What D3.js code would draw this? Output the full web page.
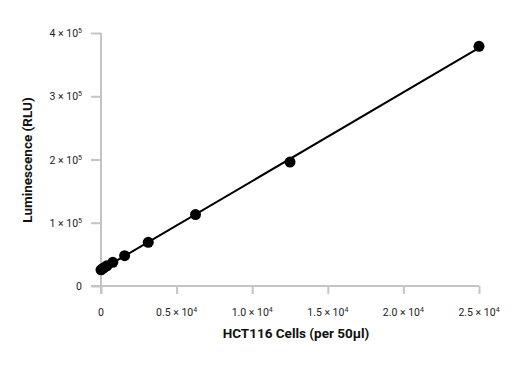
<!DOCTYPE html>
<html>
<head>
<meta charset="utf-8">
<script src="https://cdn.jsdelivr.net/npm/d3@7"></script>
<style>
  body { margin: 0; background: #fff; }
  text { font-family: Roboto, "Open Sans", sans-serif; }
</style>
</head>
<body>
<svg id="chart" width="532" height="369"></svg>
<script>
// cells per well and luminescence readings
var cells = [0, 98, 195, 390, 781, 1563, 3125, 6250, 12500, 25000];
var rlu = [25500, 27000, 29000, 32000, 37500, 48000, 69000, 113000, 196000, 379000];
var xTicks = [0, 5000, 10000, 15000, 20000, 25000];
var xTickLabels = ['0', '0.5 × 10', '1.0 × 10', '1.5 × 10', '2.0 × 10', '2.5 × 10'];
var yTicks = [0, 100000, 200000, 300000, 400000];
var yTickLabels = ['0', '1 × 10', '2 × 10', '3 × 10', '4 × 10'];

var data = cells.map((c, i) => ({x: c, y: rlu[i]}));

var svg = d3.select('#chart');

var x = d3.scaleLinear().domain([0, 25000]).range([101, 479]);
var y = d3.scaleLinear().domain([0, 400000]).range([286, 33]);

var axisColor = '#c4c4c4';

// x axis
var xAxis = svg.append('g')
    .attr('transform', 'translate(0,286)')
    .call(d3.axisBottom(x).tickValues(xTicks).tickSize(8).tickSizeOuter(0).tickFormat(''));
xAxis.select('.domain').remove();
xAxis.append('line')
    .attr('x1', 91).attr('x2', 479)
    .attr('stroke', axisColor).attr('stroke-width', 2);
xAxis.selectAll('.tick line').attr('stroke', axisColor).attr('stroke-width', 2);

// y axis
var yAxis = svg.append('g')
    .attr('transform', 'translate(101,0)')
    .call(d3.axisLeft(y).tickValues(yTicks).tickSize(10).tickSizeOuter(0).tickFormat(''));
yAxis.select('.domain').remove();
yAxis.append('line')
    .attr('y1', 33).attr('y2', 294)
    .attr('stroke', axisColor).attr('stroke-width', 2);
yAxis.selectAll('.tick line').attr('stroke', axisColor).attr('stroke-width', 2);

// tick labels with superscript exponents
var xl = svg.append('g').selectAll('text')
    .data(xTicks).enter().append('text')
    .attr('x', d => x(d))
    .attr('y', 316)
    .attr('text-anchor', 'middle')
    .attr('font-size', 10.5)
    .attr('fill', '#222');
xl.append('tspan').text((d, i) => xTickLabels[i]);
xl.filter((d, i) => i > 0).append('tspan')
    .attr('dy', -4).attr('font-size', 7).text('4');

var yl = svg.append('g').selectAll('text')
    .data(yTicks).enter().append('text')
    .attr('x', 82)
    .attr('y', d => y(d) + 4)
    .attr('text-anchor', 'end')
    .attr('font-size', 10.5)
    .attr('fill', '#222');
yl.append('tspan').text((d, i) => yTickLabels[i]);
yl.filter((d, i) => i > 0).append('tspan')
    .attr('dy', -4).attr('font-size', 7).text('5');

// least squares fit line
var mx = d3.mean(cells), my = d3.mean(rlu);
var slope = d3.sum(data, d => (d.x - mx) * (d.y - my)) / d3.sum(data, d => (d.x - mx) * (d.x - mx));
var intercept = my - slope * mx;
var fit = [0, 25000].map(c => ({x: c, y: intercept + slope * c}));

svg.append('path')
    .datum(fit)
    .attr('d', d3.line().x(d => x(d.x)).y(d => y(d.y)))
    .attr('stroke', '#000')
    .attr('stroke-width', 2)
    .attr('fill', 'none');

svg.append('g').selectAll('circle')
    .data(data).enter().append('circle')
    .attr('cx', d => x(d.x))
    .attr('cy', d => y(d.y))
    .attr('r', 5.5)
    .attr('fill', '#000');

// axis titles
svg.append('text')
    .attr('x', 296).attr('y', 338)
    .attr('text-anchor', 'middle')
    .attr('font-size', 13.5)
    .attr('font-weight', 'bold')
    .attr('fill', '#111')
    .text('HCT116 Cells (per 50µl)');

svg.append('text')
    .attr('transform', 'translate(32,160) rotate(-90)')
    .attr('text-anchor', 'middle')
    .attr('font-size', 13.5)
    .attr('font-weight', 'bold')
    .attr('fill', '#111')
    .text('Luminescence (RLU)');
</script>
</body>
</html>
